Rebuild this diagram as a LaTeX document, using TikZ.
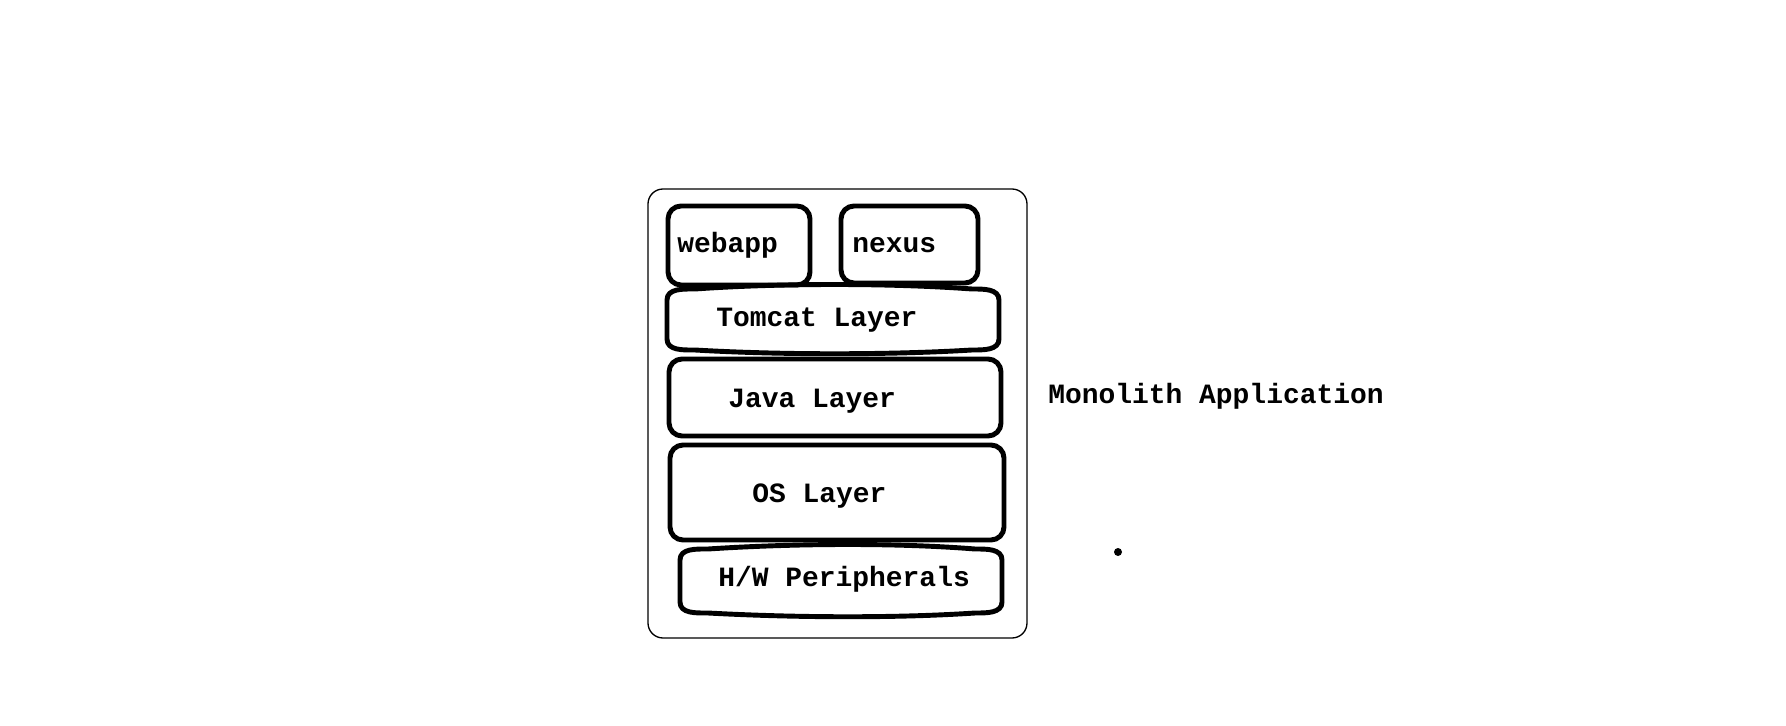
\documentclass[tikz,border=0pt]{standalone}
\usepackage{fontspec}
\setmonofont{Liberation Mono}
\usepackage{tikz}

\begin{document}
\begin{tikzpicture}[x=0.02cm,y=-0.02cm,
    layer/.style={draw, line width=2.8pt, rounded corners=0.26cm},
    lbl/.style={anchor=base west, inner sep=0pt,
        font=\ttfamily\bfseries\fontsize{15.9pt}{18pt}\selectfont}]
    \useasboundingbox (0,0) rectangle (1786,726);
    % Outer frame
    \draw[line width=0.75pt, rounded corners=0.3cm] (648,189) rectangle (1027,638);
    % webapp and nexus
    \draw[layer] (668,206) rectangle (810,285);
    \draw[layer] (841,206) rectangle (978,283);
    % Tomcat
    \draw[line width=2.8pt] (667,300) to[out=90,in=180] (695,289)
        .. controls (780,283) and (890,283) .. (972,289)
        to[out=0,in=90] (999,300) -- (999,339) to[out=-90,in=0] (972,350)
        .. controls (890,355) and (780,355) .. (695,350)
        to[out=180,in=-90] (667,339) -- cycle;
    % Java
    \draw[layer] (669,359) rectangle (1001,436);
    % OS
    \draw[layer] (670,445) rectangle (1004,540);
    % Hardware
    \draw[line width=2.8pt] (680,560) to[out=90,in=180] (708,549)
        .. controls (800,543) and (900,543) .. (975,549)
        to[out=0,in=90] (1002,560) -- (1002,602) to[out=-90,in=0] (975,613)
        .. controls (900,618) and (800,618) .. (708,613)
        to[out=180,in=-90] (680,602) -- cycle;
    % Labels
    \node[lbl] (webapp) at (677,253) {webapp};
    \node[lbl] (nexus) at (852,253) {nexus};
    \node[lbl] (tomcat) at (716,327) {Tomcat Layer};
    \node[lbl] (java) at (728,407) {Java Layer};
    \node[lbl] (os) at (752,502) {OS Layer};
    \node[lbl] (hw) at (718,586) {H/W Peripherals};
    \node[lbl] (monolith) at (1048,403) {Monolith Application};
    % Dot
    \fill (1118,552) circle (0.08cm);
\end{tikzpicture}
\end{document}
